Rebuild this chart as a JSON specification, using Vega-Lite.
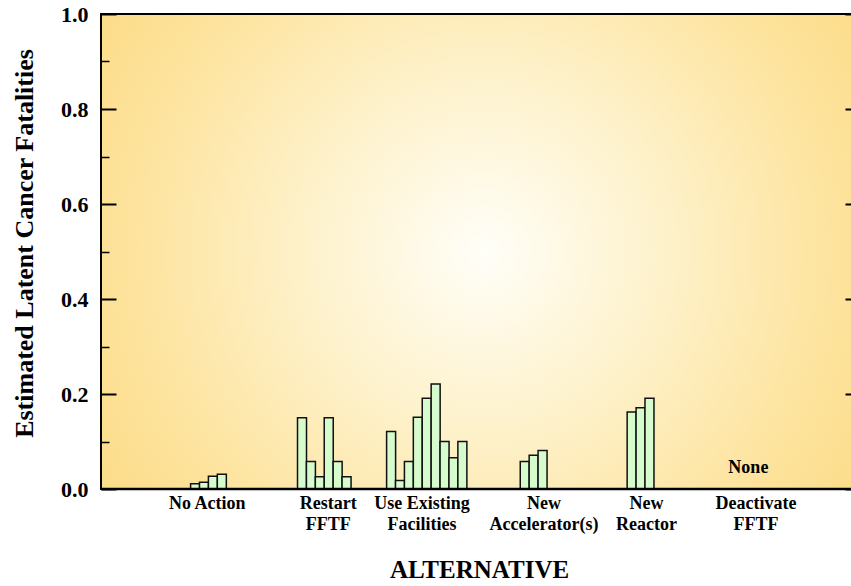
{
  "$schema": "https://vega.github.io/schema/vega-lite/v6.json",
  "autosize": "none",
  "padding": {"left": 101, "top": 14, "right": 0, "bottom": 97},
  "width": 751,
  "height": 475,
  "background": "white",
  "config": {
    "font": "Liberation Serif",
    "view": {
      "stroke": "black",
      "strokeWidth": 2,
      "fill": {
        "gradient": "radial",
        "x1": 0.51, "y1": 0.5, "x2": 0.51, "y2": 0.5, "r1": 0, "r2": 0.72,
        "stops": [
          {"offset": 0, "color": "#fffef8"},
          {"offset": 0.3, "color": "#fef3cf"},
          {"offset": 0.65, "color": "#fde39d"},
          {"offset": 1, "color": "#fbd677"}
        ]
      }
    }
  },
  "datasets": {
    "bars": [
      {"alternative": "No Action", "slot": 10, "value": 0.011},
      {"alternative": "No Action", "slot": 11, "value": 0.014},
      {"alternative": "No Action", "slot": 12, "value": 0.027},
      {"alternative": "No Action", "slot": 13, "value": 0.031},
      {"alternative": "Restart FFTF", "slot": 22, "value": 0.150},
      {"alternative": "Restart FFTF", "slot": 23, "value": 0.058},
      {"alternative": "Restart FFTF", "slot": 24, "value": 0.026},
      {"alternative": "Restart FFTF", "slot": 25, "value": 0.150},
      {"alternative": "Restart FFTF", "slot": 26, "value": 0.058},
      {"alternative": "Restart FFTF", "slot": 27, "value": 0.026},
      {"alternative": "Use Existing Facilities", "slot": 32, "value": 0.121},
      {"alternative": "Use Existing Facilities", "slot": 33, "value": 0.018},
      {"alternative": "Use Existing Facilities", "slot": 34, "value": 0.058},
      {"alternative": "Use Existing Facilities", "slot": 35, "value": 0.151},
      {"alternative": "Use Existing Facilities", "slot": 36, "value": 0.191},
      {"alternative": "Use Existing Facilities", "slot": 37, "value": 0.221},
      {"alternative": "Use Existing Facilities", "slot": 38, "value": 0.100},
      {"alternative": "Use Existing Facilities", "slot": 39, "value": 0.066},
      {"alternative": "Use Existing Facilities", "slot": 40, "value": 0.100},
      {"alternative": "New Accelerator(s)", "slot": 47, "value": 0.058},
      {"alternative": "New Accelerator(s)", "slot": 48, "value": 0.071},
      {"alternative": "New Accelerator(s)", "slot": 49, "value": 0.081},
      {"alternative": "New Reactor", "slot": 59, "value": 0.162},
      {"alternative": "New Reactor", "slot": 60, "value": 0.171},
      {"alternative": "New Reactor", "slot": 61, "value": 0.191}
    ],
    "notes": [
      {"alternative": "Deactivate FFTF", "slot": 72.1, "value": 0.034, "label": "None"}
    ]
  },
  "layer": [
    {
      "data": {"name": "bars"},
      "mark": {"type": "bar", "width": 9, "fill": "#d6fbcd", "stroke": "#111111", "strokeWidth": 1.5},
      "encoding": {
        "x": {
          "field": "slot", "type": "quantitative",
          "scale": {"domain": [0, 83.17], "nice": false, "zero": false},
          "axis": {
            "values": [11.3, 24.9, 35.4, 49.1, 60.6, 72.9],
            "labelExpr": "datum.value < 15 ? 'No Action' : datum.value < 30 ? ['Restart', 'FFTF'] : datum.value < 40 ? ['Use Existing', 'Facilities'] : datum.value < 55 ? ['New', 'Accelerator(s)'] : datum.value < 65 ? ['New', 'Reactor'] : ['Deactivate', 'FFTF']",
            "ticks": false, "grid": false, "domain": false,
            "labelFont": "Liberation Serif", "labelFontWeight": "bold", "labelFontSize": 18,
            "labelColor": "black", "labelBaseline": "top", "labelLineHeight": 21,
            "labelPadding": 5, "labelFlush": false, "labelOverlap": false,
            "title": "ALTERNATIVE", "titleFont": "Liberation Serif", "titleFontWeight": "bold",
            "titleFontSize": 25, "titleColor": "black", "titleX": 378, "titleY": 88,
            "titleAlign": "center", "titleBaseline": "alphabetic"
          }
        },
        "y": {
          "field": "value", "type": "quantitative",
          "scale": {"domain": [0, 1], "nice": false},
          "axis": {
            "orient": "left", "values": [0, 0.2, 0.4, 0.6, 0.8, 1.0], "format": ".1f",
            "tickSize": -15, "tickWidth": 2, "tickColor": "black", "domain": false, "grid": false,
            "labelFont": "Liberation Serif", "labelFontWeight": "bold", "labelFontSize": 22,
            "labelColor": "black", "labelPadding": 28,
            "title": "Estimated Latent Cancer Fatalities", "titleFont": "Liberation Serif",
            "titleFontWeight": "bold", "titleFontSize": 26, "titleColor": "black",
            "titleX": -77, "titleY": 229, "titleAngle": -90, "titleAlign": "center", "titleBaseline": "middle"
          }
        }
      }
    },
    {
      "data": {"name": "notes"},
      "mark": {"type": "text", "font": "Liberation Serif", "fontWeight": "bold", "fontSize": 18, "align": "center", "baseline": "alphabetic", "color": "black"},
      "encoding": {
        "x": {"field": "slot", "type": "quantitative"},
        "y": {
          "field": "value", "type": "quantitative",
          "scale": {"domain": [0, 1], "nice": false},
          "axis": {
            "orient": "left", "values": [0.1, 0.3, 0.5, 0.7, 0.9],
            "tickSize": -8, "tickWidth": 1.5, "tickColor": "black",
            "labels": false, "domain": false, "grid": false, "title": null
          }
        },
        "text": {"field": "label"}
      }
    },
    {
      "data": {"values": [{}]},
      "mark": {"type": "rule", "color": "black", "strokeWidth": 2.5},
      "encoding": {
        "y": {
          "datum": 0, "type": "quantitative",
          "scale": {"domain": [0, 1], "nice": false},
          "axis": {
            "orient": "right", "values": [0, 0.2, 0.4, 0.6, 0.8, 1.0],
            "tickSize": -7, "tickWidth": 2, "tickColor": "black",
            "labels": false, "domain": false, "grid": false, "title": null
          }
        }
      }
    }
  ],
  "resolve": {"scale": {"y": "independent"}, "axis": {"y": "independent"}}
}
